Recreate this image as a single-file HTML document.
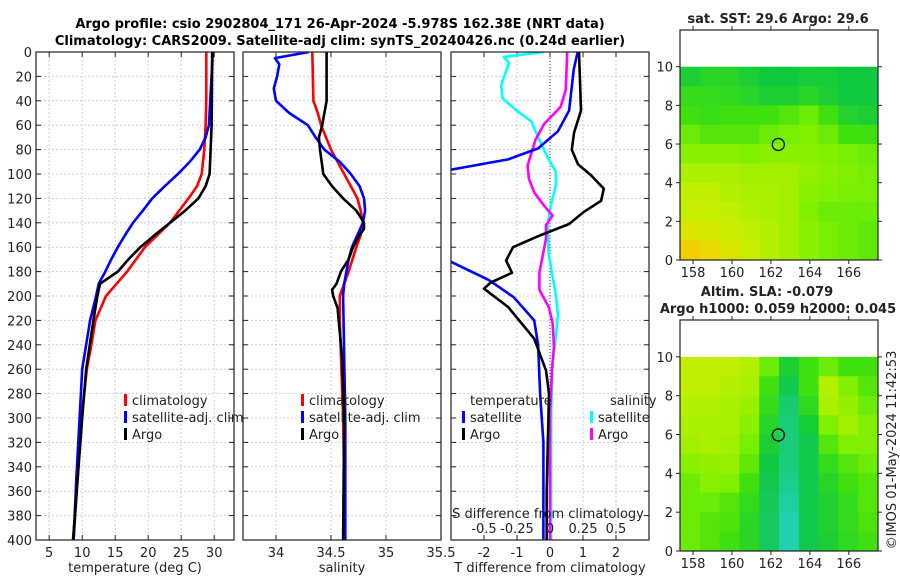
<!DOCTYPE html>
<html><head><meta charset="utf-8"><style>
html,body{margin:0;padding:0;background:#fff;}
svg{display:block;font-family:"DejaVu Sans","Liberation Sans",sans-serif;}
</style></head><body>
<svg id="fig" width="900" height="580" viewBox="0 0 900 580" xmlns="http://www.w3.org/2000/svg">
<text x="340" y="28" font-size="13" font-weight="bold" text-anchor="middle">Argo profile: csio 2902804_171 26-Apr-2024 -5.978S 162.38E (NRT data)</text>
<text x="340" y="45" font-size="13" font-weight="bold" text-anchor="middle">Climatology: CARS2009. Satellite-adj clim: synTS_20240426.nc (0.24d earlier)</text>
<g id="g"></g>
</svg>
<script>
// ---- depth axis ----
const depthTicks=[0,20,40,60,80,100,120,140,160,180,200,220,240,260,280,300,320,340,360,380,400];
// ---- temperature panel data ----
const tempTickLabels=[5,10,15,20,25,30];
const climDepth=[0,40,60,80,100,110,120,140,160,180,200,220,240,260,280,300,350,400];
const climTemp=[28.8,28.8,28.7,28.5,28.1,27.4,26.1,23.3,19.5,16.8,13.6,12.0,11.4,10.7,10.3,9.9,9.3,8.7];
const argoDepth=[0,60,100,110,120,130,140,150,160,170,180,190,200,220,260,300,350,400];
const argoTemp=[29.7,29.6,29.3,28.7,27.6,25.6,23.3,21.0,18.8,17.0,15.4,12.7,12.3,11.7,10.6,10.0,9.3,8.6];
const satDepth=[0,60,70,80,90,100,110,120,130,140,150,160,170,180,190,200,220,260,300,350,400];
const satTemp=[29.8,29.2,28.7,27.8,26.3,24.5,22.5,20.6,19.2,17.7,16.5,15.4,14.4,13.5,12.5,12.1,11.2,10.0,9.6,9.1,8.7];
// ---- salinity panel data ----
const salTickLabels=[34,34.5,35,35.5];
const salSatDepth=[0,5,10,20,30,40,50,60,70,80,90,100,110,120,130,140,150,160,170,180,190,200,300,400];
const salSat=[34.30,33.99,34.03,34.01,33.98,34.00,34.12,34.29,34.36,34.44,34.58,34.68,34.76,34.80,34.81,34.79,34.74,34.69,34.66,34.64,34.62,34.61,34.63,34.63];
const salClimDepth=[0,40,50,60,80,100,120,130,140,150,160,180,200,220,300,400];
const salClim=[34.33,34.34,34.38,34.41,34.50,34.62,34.74,34.77,34.79,34.77,34.73,34.66,34.58,34.58,34.61,34.63];
const salArgoDepth=[0,40,60,70,80,100,110,120,130,140,145,150,160,170,180,190,195,200,210,250,300,400];
const salArgo=[34.46,34.46,34.42,34.39,34.40,34.43,34.51,34.61,34.73,34.80,34.80,34.76,34.70,34.66,34.59,34.55,34.51,34.52,34.56,34.60,34.62,34.61];
// ---- difference panel data ----
const tDiffTickLabels=[-2,-1,0,1,2];
const sDiffTickLabels=[-0.5,-0.25,0,0.25,0.5];
const dTsatDepth=[0,14,48,65,79,88,97,130,172,187,201,220,240,280,320,400];
const dTsat=[0.84,0.72,0.58,0.24,-0.36,-1.27,-3.1,-6,-3.0,-1.85,-1.1,-0.48,-0.36,-0.3,-0.2,-0.2];
const dTargoDepth=[0,48,66,80,92,101,112,122,131,141,151,160,171,181,189,194,209,235,261,280,360,400];
const dTargo=[0.88,0.94,0.73,0.66,0.85,1.24,1.63,1.55,1.03,0.58,-0.36,-1.12,-1.33,-1.15,-1.8,-2.0,-1.27,-0.48,-0.12,-0.03,-0.1,-0.1];
const dSsatDepth=[0,4,9,27,38,49,57,70,87,98,109,125,142,166,199,214,227,256,297,400];
const dSsat=[-0.045,-0.35,-0.31,-0.37,-0.36,-0.24,-0.14,-0.09,-0.015,0.045,0.045,0.008,-0.02,-0.01,0.045,0.06,0.05,0.02,0.008,0.008];
const dSargoDepth=[0,31,45,59,72,93,104,115,126,134,142,153,167,181,195,209,222,241,260,297,400];
const dSargo=[0.13,0.12,0.08,-0.045,-0.11,-0.17,-0.16,-0.12,-0.045,0.02,-0.03,-0.03,-0.055,-0.08,-0.08,-0.01,0.02,0.03,0.015,0,0];
// ---- map data (normalised colour value 0..1, rows lat 10->0, cols lon 157.3->167.5) ----
const sstGrid=[
[.30,.35,.35,.30,.25,.25,.28,.28,.25,.25],
[.40,.40,.38,.35,.30,.30,.35,.30,.25,.25],
[.45,.42,.45,.45,.45,.50,.55,.45,.33,.30],
[.55,.50,.50,.50,.55,.58,.60,.55,.45,.45],
[.62,.62,.62,.60,.62,.62,.62,.60,.58,.55],
[.70,.70,.70,.68,.68,.68,.65,.62,.60,.58],
[.75,.75,.72,.70,.70,.68,.62,.60,.58,.58],
[.78,.77,.75,.72,.70,.68,.60,.55,.55,.55],
[.85,.82,.78,.75,.72,.68,.62,.58,.55,.52],
[.95,.92,.85,.78,.72,.68,.62,.58,.55,.52]];
const slaGrid=[
[.75,.75,.75,.72,.55,.30,.45,.55,.45,.45],
[.75,.75,.72,.70,.45,.22,.45,.72,.60,.50],
[.72,.72,.70,.66,.40,.15,.38,.70,.65,.55],
[.70,.70,.70,.62,.35,.12,.28,.60,.68,.60],
[.68,.70,.68,.58,.30,.12,.22,.50,.60,.60],
[.62,.65,.65,.52,.25,.12,.22,.40,.50,.55],
[.55,.62,.60,.45,.22,.08,.22,.35,.45,.50],
[.55,.55,.50,.40,.20,.04,.22,.32,.40,.50],
[.55,.50,.48,.36,.18,.00,.22,.32,.40,.48],
[.55,.50,.45,.36,.18,.00,.22,.30,.38,.45]];
const lonTickLabels=[158,160,162,164,166];
const latTickLabels=[0,2,4,6,8,10];
const argoLon=162.38, argoLat=5.978;

const NS='http://www.w3.org/2000/svg';
const G=document.getElementById('g');
function mk(tag,attrs,parent){const e=document.createElementNS(NS,tag);for(const k in attrs)e.setAttribute(k,attrs[k]);(parent||G).appendChild(e);return e;}
function txt(s,x,y,size,anchor,name){const t=mk('text',{x:x,y:y,'font-size':size,'text-anchor':anchor||'middle',fill:'#222'});t.textContent=s;


return t;}

const PT=52,PB=540;
const yD=d=>PT+(PB-PT)*d/400;
function panel(x0,x1,xmin,xmax,name,ticks,showDepth){
  const sx=v=>x0+(x1-x0)*(v-xmin)/(xmax-xmin);
  const grp=mk('g',{});
  
  
  depthTicks.forEach(d=>{
    mk('line',{x1:x0,x2:x1,y1:yD(d),y2:yD(d),stroke:'#c8cce8','stroke-width':1,'stroke-dasharray':'2,2'},grp);
    mk('line',{x1:x0,x2:x0+5,y1:yD(d),y2:yD(d),stroke:'#222'},grp);
    mk('line',{x1:x1-5,x2:x1,y1:yD(d),y2:yD(d),stroke:'#222'},grp);
    if(showDepth){txt(String(d),x0-4,yD(d)+5,13,'end','depth-tick-label');}
  });
  ticks.forEach(v=>{
    mk('line',{x1:sx(v),x2:sx(v),y1:PT,y2:PB,stroke:'#c8cce8','stroke-width':1,'stroke-dasharray':'2,2'},grp);
    mk('line',{x1:sx(v),x2:sx(v),y1:PB,y2:PB-5,stroke:'#222'},grp);
    mk('line',{x1:sx(v),x2:sx(v),y1:PT,y2:PT+5,stroke:'#222'},grp);
  });
  return sx;
}
function clipFor(id,x0,x1){const cp=mk('clipPath',{id:id});mk('rect',{x:x0,y:PT,width:x1-x0,height:PB-PT},cp);}
function line(xs,ds,sx,color,name,clip){
  const p=xs.map((v,i)=>(i?'L':'M')+sx(v).toFixed(1)+','+yD(ds[i]).toFixed(1)).join(' ');
  const e=mk('path',{d:p,fill:'none',stroke:color,'stroke-width':2.6,'stroke-linejoin':'round','clip-path':'url(#'+clip+')'});
  
  
}
function frame(x0,x1){mk('rect',{x:x0,y:PT,width:x1-x0,height:PB-PT,fill:'none',stroke:'#222','stroke-width':1.2});}
function legItem(x,y,color,label,name){
  mk('rect',{x:x,y:y-11,width:3,height:12,fill:color});
  txt(label,x+8,y,13,'start',name);
}

// Panel 1
clipFor('c1',36,234);
const sx1=panel(36,234,3,33,'temperature-panel',tempTickLabels,true);
line(climTemp,climDepth,sx1,'#ff0000','temp-climatology-line','c1');
line(satTemp,satDepth,sx1,'#0000ff','temp-satellite-line','c1');
line(argoTemp,argoDepth,sx1,'#000000','temp-argo-line','c1');
frame(36,234);
tempTickLabels.forEach(v=>txt(String(v),sx1(v),557,13,'middle','temp-tick-label'));
txt('temperature (deg C)',135,572,13,'middle','temp-axis-title');
legItem(124,405,'#ff0000','climatology','legend-climatology');
legItem(124,422,'#0000ff','satellite-adj. clim','legend-satellite-adj');
legItem(124,439,'#000000','Argo','legend-argo');

// Panel 2
clipFor('c2',243,441);
const sx2=panel(243,441,33.7,35.5,'salinity-panel',salTickLabels,false);
line(salClim,salClimDepth,sx2,'#ff0000','sal-climatology-line','c2');
line(salSat,salSatDepth,sx2,'#0000ff','sal-satellite-line','c2');
line(salArgo,salArgoDepth,sx2,'#000000','sal-argo-line','c2');
frame(243,441);
salTickLabels.forEach(v=>txt(String(v),sx2(v),557,13,'middle','sal-tick-label'));
txt('salinity',342,572,13,'middle','sal-axis-title');
legItem(301,405,'#ff0000','climatology','legend-sal-climatology');
legItem(301,422,'#0000ff','satellite-adj. clim','legend-sal-satellite-adj');
legItem(301,439,'#000000','Argo','legend-sal-argo');

// Panel 3
clipFor('c3',451,649);
const sx3=panel(451,649,-3,3,'difference-panel',tDiffTickLabels,false);
const sxS=v=>sx3(v*4);
mk('line',{x1:sx3(0),x2:sx3(0),y1:PT,y2:PB,stroke:'#335533','stroke-width':1,'stroke-dasharray':'1,2'});
line(dSsat,dSsatDepth,sxS,'#00ffff','sdiff-satellite-line','c3');
line(dSargo,dSargoDepth,sxS,'#ff00ff','sdiff-argo-line','c3');
line(dTsat,dTsatDepth,sx3,'#0000ff','tdiff-satellite-line','c3');
line(dTargo,dTargoDepth,sx3,'#000000','tdiff-argo-line','c3');
frame(451,649);
tDiffTickLabels.forEach(v=>txt(String(v),sx3(v),557,13,'middle','tdiff-tick-label'));
txt('T difference from climatology',550,572,13,'middle','tdiff-axis-title');
txt('S difference from climatology',548,518,13,'middle','sdiff-axis-title');
sDiffTickLabels.forEach(v=>txt(String(v),sxS(v),533,13,'middle','sdiff-tick-label'));
txt('temperature',470,405,13,'start','legend-temperature-heading');
legItem(462,422,'#0000ff','satellite','legend-tdiff-satellite');
legItem(462,439,'#000000','Argo','legend-tdiff-argo');
txt('salinity',610,405,13,'start','legend-salinity-heading');
legItem(590,422,'#00ffff','satellite','legend-sdiff-satellite');
legItem(590,439,'#ff00ff','Argo','legend-sdiff-argo');

// Maps
const cmapStops=[[0,[32,208,176]],[0.25,[16,200,64]],[0.45,[64,224,16]],[0.6,[128,240,0]],[0.75,[192,240,0]],[0.9,[232,224,0]],[1,[248,192,0]]];
function cmap(v){for(let i=1;i<cmapStops.length;i++){const a=cmapStops[i-1],b=cmapStops[i];if(v<=b[0]){const t=(v-a[0])/(b[0]-a[0]);return 'rgb('+a[1].map((c,k)=>Math.round(c+(b[1][k]-c)*t)).join(',')+')';}}return 'rgb(248,192,0)';}
function map(y0,y1,grid,name){
  const X0=680,X1=878,lonMin=157.33,lonMax=167.5,latMin=0,latMax=11.9;
  const lx=v=>X0+(X1-X0)*(v-lonMin)/(lonMax-lonMin);
  const ly=v=>y1-(y1-y0)*(v-latMin)/(latMax-latMin);
  const grp=mk('g',{});
  
  
  const nr=grid.length,nc=grid[0].length;
  const cw=(lonMax-lonMin)/nc;
  grid.forEach((row,r)=>row.forEach((v,c)=>{
    const cell=mk('rect',{x:lx(lonMin+c*cw),y:ly(10-r),width:lx(lonMin+(c+1)*cw)-lx(lonMin+c*cw)+0.5,height:ly(10-r-1)-ly(10-r)+0.5,fill:cmap(v)},grp);
    
    
  }));
  mk('rect',{x:X0,y:y0,width:X1-X0,height:y1-y0,fill:'none',stroke:'#222','stroke-width':1.2},grp);
  latTickLabels.forEach(v=>{mk('line',{x1:X0-4,x2:X0,y1:ly(v),y2:ly(v),stroke:'#222'},grp);mk('line',{x1:X1,x2:X1+4,y1:ly(v),y2:ly(v),stroke:'#222'},grp);txt(String(v),X0-7,ly(v)+5,13,'end','map-lat-label');});
  lonTickLabels.forEach(v=>{mk('line',{x1:lx(v),x2:lx(v),y1:y1,y2:y1+4,stroke:'#222'},grp);mk('line',{x1:lx(v),x2:lx(v),y1:y0-4,y2:y0,stroke:'#222'},grp);txt(String(v),lx(v),y1+17,13,'middle','map-lon-label');});
  const m=mk('circle',{cx:lx(argoLon),cy:ly(argoLat),r:6,fill:'none',stroke:'#000','stroke-width':1.3},grp);
  
  
}
map(30,260,sstGrid,'sst-map');
txt('sat. SST: 29.6 Argo: 29.6',778,23,13,'middle','sst-map-title').setAttribute('font-weight','bold');
map(320,551,slaGrid,'sla-map');
txt('Altim. SLA: -0.079',767,296,13,'middle','sla-map-title').setAttribute('font-weight','bold');
txt('Argo h1000: 0.059 h2000: 0.045',778,313,13,'middle','sla-map-subtitle').setAttribute('font-weight','bold');
const cr=txt('©IMOS 01-May-2024 11:42:53',0,0,13,'middle','copyright-stamp');
cr.setAttribute('transform','translate(896,450) rotate(-90)');
</script>
</body></html>
